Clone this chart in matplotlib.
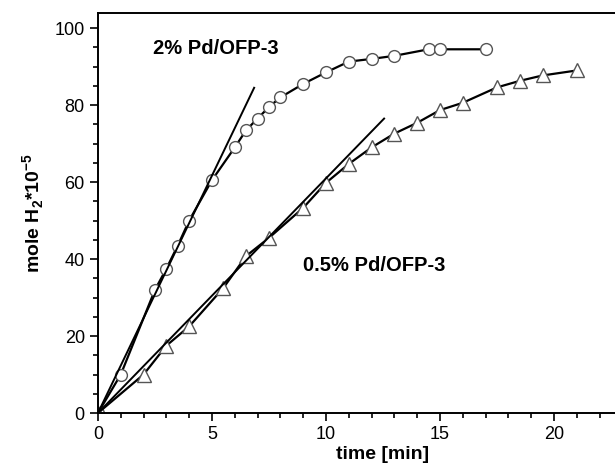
import matplotlib
matplotlib.use("Agg")
import matplotlib.pyplot as plt
from matplotlib.ticker import MultipleLocator, FixedLocator

# =============================================================================
# Data
# =============================================================================

# 2% Pd/OFP-3 (circles)
t_2 = [0, 1, 2.5, 3, 3.5, 4, 5, 6, 6.5, 7, 7.5, 8, 9, 10, 11, 12, 13, 14.5, 15, 17]
h2_2 = [0, 10, 32, 37.5, 43.5, 50, 60.5, 69, 73.5, 76.5, 79.5, 82, 85.5, 88.5, 91.3, 92, 92.8, 94.5, 94.5, 94.5]

# 0.5% Pd/OFP-3 (triangles)
t_05 = [0, 2, 3, 4, 5.5, 6.5, 7.5, 9, 10, 11, 12, 13, 14, 15, 16, 17.5, 18.5, 19.5, 21]
h2_05 = [0, 10, 17.5, 22.5, 32.5, 40.8, 45.5, 53.3, 59.8, 64.7, 69, 72.6, 75.4, 78.7, 80.6, 84.6, 86.3, 87.7, 89]

# initial-rate lines
fit_2_t = [0, 6.85]
fit_2_v = [0, 84.5]
fit_05_t = [0, 12.55]
fit_05_v = [0, 76.5]

labels = ["2% Pd/OFP-3", "0.5% Pd/OFP-3"]
x_ticks = [0, 5, 10, 15, 20]

# =============================================================================
# Plot
# =============================================================================

plt.rcParams['font.family'] = ['Liberation Sans', 'DejaVu Sans']
plt.rcParams['mathtext.fontset'] = 'custom'
plt.rcParams['mathtext.bf'] = 'Liberation Sans:bold'
plt.rcParams['mathtext.rm'] = 'Liberation Sans'

fig = plt.figure(figsize=(6.15, 4.75), dpi=100)
# axes run past the right edge, as in the cropped original
ax = fig.add_axes([0.1593, 0.1305, 0.9268, 0.8427])

mk = dict(markerfacecolor='white', markeredgecolor='#555555', markeredgewidth=1.0)
ax.plot(t_2, h2_2, color='black', lw=1.6, marker='o', markersize=8.5, zorder=2, **mk)
ax.plot(t_05, h2_05, color='black', lw=1.6, marker='^', markersize=9.5, zorder=2, **mk)
ax.plot(fit_2_t, fit_2_v, color='black', lw=1.4, zorder=3)
ax.plot(fit_05_t, fit_05_v, color='black', lw=1.4, zorder=3)

ax.text(2.4, 94.8, labels[0], fontsize=14.5, fontweight='bold', va='center', ha='left')
ax.text(9.0, 38.4, labels[1], fontsize=14.5, fontweight='bold', va='center', ha='left')

ax.set_xlim(0, 25)
ax.set_ylim(0, 104)
ax.xaxis.set_major_locator(FixedLocator(x_ticks))
ax.xaxis.set_minor_locator(MultipleLocator(1))
ax.yaxis.set_major_locator(MultipleLocator(20))
ax.yaxis.set_minor_locator(MultipleLocator(5))

ax.tick_params(which='both', direction='out', top=False, right=False, width=1.2, labelsize=13)
ax.tick_params(which='major', length=6)
ax.tick_params(which='minor', length=3.5)
for s in ax.spines.values():
    s.set_linewidth(1.4)
ax.spines['right'].set_visible(False)

ax.set_xlabel('time [min]', fontsize=14, fontweight='bold', labelpad=2)
ax.set_ylabel(r'mole H$_\mathbf{2}$*10$^{\mathbf{-5}}$', fontsize=14, fontweight='bold', labelpad=6)

fig.savefig('out.png', dpi=100)
